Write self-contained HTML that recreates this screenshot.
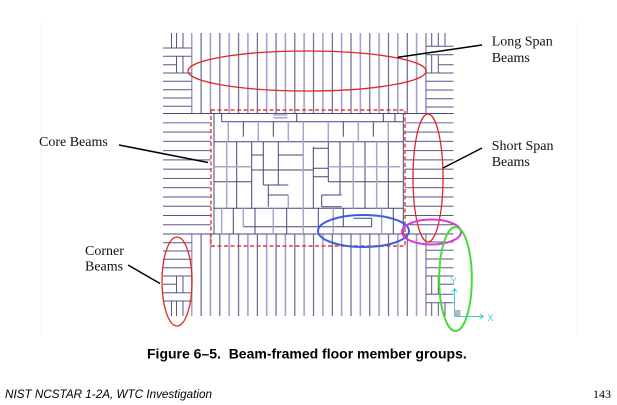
<!DOCTYPE html>
<html>
<head>
<meta charset="utf-8">
<style>
html,body{margin:0;padding:0;background:#fff;}
body{width:617px;height:405px;overflow:hidden;position:relative;}
svg{position:absolute;left:0;top:0;}
.lbl{font-family:"Liberation Serif",serif;font-size:14px;fill:#111;}
.cap{font-family:"Liberation Sans",sans-serif;font-size:14px;font-weight:bold;fill:#000;white-space:pre;}
.foot{font-family:"Liberation Sans",sans-serif;font-size:11.7px;font-style:italic;fill:#000;}
.pg{font-family:"Liberation Serif",serif;font-size:12px;fill:#000;}
</style>
</head>
<body>
<svg width="617" height="405" viewBox="0 0 617 405" xmlns="http://www.w3.org/2000/svg">
<defs>
<pattern id="vp" x="190.9" y="0" width="18.74" height="10" patternUnits="userSpaceOnUse">
<rect x="0" y="0" width="1.6" height="10" fill="#a2a2c4"/>
<rect x="9.7" y="0" width="1" height="10" fill="#4a4a7e"/>
</pattern>
<pattern id="hp" x="0" y="122.3" width="10" height="9.27" patternUnits="userSpaceOnUse">
<rect x="0" y="0" width="10" height="1" fill="#55558a"/>
</pattern>
</defs>

<path d="M41 20V335M577 20V335" stroke="#f6f6f6" stroke-width="1"/>

<!-- long span bands -->
<rect x="190.9" y="33" width="236" height="80.5" fill="url(#vp)"/>
<rect x="190.9" y="234" width="236" height="82" fill="url(#vp)"/>
<path d="M425.9 33V113.5M425.9 234V316" stroke="#a2a2c4" stroke-width="1.6"/>

<!-- short span bands -->
<rect x="163" y="122.3" width="48" height="103.2" fill="url(#hp)"/>
<rect x="405" y="122.3" width="48.5" height="103.2" fill="url(#hp)"/>

<!-- full horizontals -->
<path d="M163 113.5H453.5M163 234H453.5" stroke="#4a4a7e" stroke-width="1.1"/>

<!-- corners -->
<path fill="none" stroke="#55558a" stroke-width="1" d="
M171.5 33V48M176.5 33V48M183 33V48
M163 48H191.7M163 56.3H191.7M163 64.7H176.5M163 73H191.7
M176.5 56.3V73M183 56.3V73
M163 81.3H191.7M163 89.7H191.7M163 98H191.7M163 106.3H191.7
M171.5 301V316M176.5 301V316M183 301V316
M163 301H191.7M163 292.7H191.7M163 284.3H176.5M163 276H191.7
M176.5 276V292.7M183 276V292.7
M163 267.7H191.7M163 259.3H191.7M163 251H191.7M163 242.7H191.7
M431.7 33V46.3M438.3 33V46.3M445 33V46.3
M425.9 46.3H453.5M425.9 54.7H453.5M438.3 64.7H453.5
M431.7 54.7V73M438.3 54.7V73
M425.9 73H453.5M425.9 81.3H453.5M425.9 90H453.5M425.9 98.7H453.5M425.9 107H453.5
M431.7 302.7V316M438.3 302.7V316M445 302.7V316
M425.9 302.7H453.5M425.9 294.3H453.5M438.3 284.3H453.5
M431.7 276V294.3M438.3 276V294.3
M425.9 276H453.5M425.9 267.7H453.5M425.9 259H453.5M425.9 250.3H453.5M425.9 242H453.5"/>

<!-- core dark lines -->
<path fill="none" stroke="#44447a" stroke-width="1" d="
M214 113.5V234M403.3 113.5V234
M221.7 121.7H403.3M221.7 113.5V121.7M296.7 113.5V121.7M383.3 113.5V121.7M395 113.5V121.7
M243.3 121.7V136.7M273.3 121.7V136.7M343.3 121.7V136.7M373.3 121.7V136.7
M214 141.7H403.3
M236.7 141.7V208.3M251.7 141.7V208.3M278.3 141.7V185M340 141.7V195M365 141.7V208.3M388.3 141.7V208.3
M263.3 141.7V185M313.3 146.7V208.3M328.3 141.7V181.7
M251.7 155H263.3M278.3 155H303.3M313.3 148.3H328.3M313.3 168.3H328.3M251.7 170H313.3M313.3 176.7H328.3
M214 181.7H251.7M328.3 181.7H403.3
M263.3 185H288.3M268.3 195H288.3M321.7 195H341.7M321.7 206.7H341.7
M268.3 185V206.7M321.7 195V206.7
M214 208.3H403.3
M233.3 208.3V234M255 208.3V234M286.7 208.3V234M318.3 208.3V234M343.3 208.3V226.7M393.3 208.3V234M371.7 218.3V226.7
M243.3 226.7H371.7M353.3 218.3H371.7"/>

<!-- core light lines -->
<path fill="none" stroke="#a8a8c8" stroke-width="1.5" d="
M273.3 115H287.3M273.3 117.8H287.3
M228.3 121.7V141.7M258.3 121.7V141.7M288.3 121.7V141.7M303.3 121.7V141.7M328.3 121.7V141.7M358.3 121.7V141.7M388.3 121.7V141.7
M226.7 141.7V208.3M288.3 195V208.3M303.3 141.7V208.3M353.3 141.7V208.3M376.7 141.7V208.3
M214 166.7H251.7M328.3 166.7H400
M221.7 208.3V234M243.3 208.3V226.7M273.3 208.3V234M303.3 208.3V234M333.3 208.3V234M381.7 208.3V234"/>

<!-- core dashed outline -->
<rect x="211" y="110" width="194" height="136" fill="none" stroke="#e03a3a" stroke-width="1.4" stroke-dasharray="4,2.5"/>

<!-- group ellipses -->
<ellipse cx="307" cy="71" rx="119" ry="20" fill="none" stroke="#e02828" stroke-width="1.3"/>
<ellipse cx="428" cy="178" rx="15" ry="64" fill="none" stroke="#e02828" stroke-width="1.3"/>
<ellipse cx="177" cy="281.5" rx="15" ry="44.5" fill="none" stroke="#e02828" stroke-width="1.3"/>
<ellipse cx="363.5" cy="231" rx="45.5" ry="16" fill="none" stroke="#3e5ee0" stroke-width="2"/>
<ellipse cx="431.5" cy="232" rx="29.5" ry="12.5" fill="none" stroke="#d93ad9" stroke-width="2"/>
<ellipse cx="455.5" cy="279" rx="16.3" ry="52" fill="none" stroke="#4ada3a" stroke-width="2"/>

<!-- axis icon -->
<path fill="none" stroke="#3cc8e0" stroke-width="1" d="M454.5 316.5V289M454.5 316.5H483M452.3 292L454.5 288.5L456.7 292M480 314.3L483.5 316.5L480 318.7"/>
<rect x="454.5" y="310" width="6" height="6" fill="#b8b8b8"/>
<text x="450.5" y="284" font-family="Liberation Sans, sans-serif" font-size="9" fill="#3cc8e0">Y</text>
<text x="487.5" y="321" font-family="Liberation Sans, sans-serif" font-size="9" fill="#3cc8e0">X</text>

<!-- leaders -->
<path fill="none" stroke="#000" stroke-width="1.5" d="M398 57.3L482 45M443 168L482 148M119 145L208 162.5M128 265L160 283.5"/>

<text class="lbl" x="491.7" y="45.5">Long Span</text>
<text class="lbl" x="491.7" y="62">Beams</text>
<text class="lbl" x="491.7" y="150">Short Span</text>
<text class="lbl" x="491.7" y="166">Beams</text>
<text class="lbl" x="39" y="146">Core Beams</text>
<text class="lbl" x="85" y="255">Corner</text>
<text class="lbl" x="85" y="270.7">Beams</text>

<text class="cap" x="147" y="358.5">Figure 6–5.&#160; Beam-framed floor member groups.</text>
<text class="foot" x="5" y="398">NIST NCSTAR 1-2A, WTC Investigation</text>
<text class="pg" x="593" y="398">143</text>
</svg>
</body>
</html>
